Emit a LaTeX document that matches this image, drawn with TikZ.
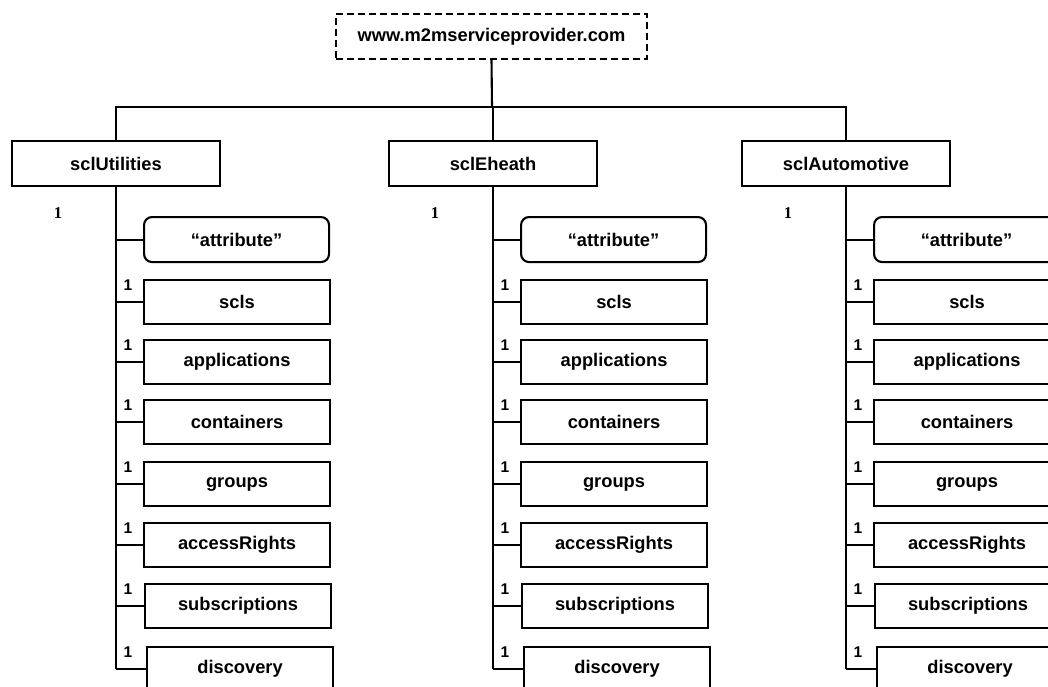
\documentclass[tikz,border=0pt]{standalone}
\usepackage{fontspec}
\setmainfont{Liberation Sans}
\newfontfamily\numfont{Liberation Serif}
\begin{document}
\begin{tikzpicture}[x=1pt,y=-1pt,
  every node/.style={font=\bfseries\fontsize{18.3}{20}\selectfont, inner sep=0pt},
  sitebox/.style={draw, dash pattern=on 7pt off 4pt, line width=1.5pt,
    minimum width=311pt, minimum height=45pt},
  sclbox/.style={draw, line width=2.1pt, minimum width=208pt, minimum height=45pt},
  attrbox/.style={draw, line width=2.1pt, rounded corners=8pt,
    minimum width=185pt, minimum height=45pt, anchor=north west},
  resbox/.style={draw, line width=2.1pt, minimum width=186pt,
    minimum height=44pt, anchor=north west},
  mult/.style={font=\bfseries\fontsize{15.5}{16}\selectfont},
  rootmult/.style={font=\numfont\bfseries\fontsize{16.5}{18}\selectfont},
  spine/.style={line width=2.6pt},
  link/.style={line width=2.1pt}]
\useasboundingbox (0,0) rectangle (1048,687);
\clip (0,0) rectangle (1048,687);

% provider root and the bus joining the three service capability layers
\node[sitebox] (site) at (491.5,36.5) {www.m2mserviceprovider.com};
\coordinate (bus) at (492,107);

\foreach \n/\sx/\t in {u/116/sclUtilities, e/493/sclEheath, a/846/sclAutomotive}{
  \node[sclbox] (\n) at (\sx,163.5) {\t};
  \node[rootmult] (\n-m) at (\sx-58,213) {1};
  \node[attrbox] (\n-attr) at (\sx+27,216) {“attribute”};
  \draw[link] (\n-attr.west) -- (\n-attr.west -| \n.south);
  \foreach \r/\top/\dx [count=\k] in {scls/279/0, applications/339/0,
      containers/399/0, groups/461/0, accessRights/522/0,
      subscriptions/583/1, discovery/646/3}{
    \node[resbox] (\n-r\k) at (\sx+27+\dx,\top) {\r};
    \node[mult] (\n-m\k) at (\sx+12,\top+6) {1};
    \draw[link] (\n-r\k.west) -- (\n-r\k.west -| \n.south);
  }
  \draw[spine] (\n.south) -- (\n.south |- \n-r7.west);
}

\draw[link] (site.south) -- (bus);
\draw[link] (u.north) -- (u.north |- bus) -- (a.north |- bus) -- (a.north);
\draw[link] (e.north) -- (e.north |- bus);
\end{tikzpicture}
\end{document}
